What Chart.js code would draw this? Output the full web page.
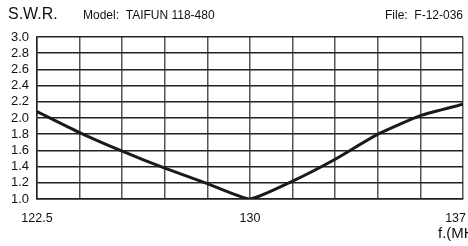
<!DOCTYPE html>
<html lang="en">
<head>
    <meta charset="UTF-8">
    <title>S.W.R. - TAIFUN 118-480</title>
    <style>
        body {
            margin: 0;
            padding: 0;
            background: #fff;
        }
        .wrap {
            position: relative;
            width: 468px;
            height: 246px;
            overflow: hidden;
        }
    </style>
</head>
<body>
    <div class="wrap">
        <canvas id="swr-chart" width="468" height="246"></canvas>
    </div>
    <script src="https://cdn.jsdelivr.net/npm/chart.js"></script>
    <script>
        // frequency (MHz) and SWR
        const freqs = [122.5, 124, 125.5, 127, 128.5, 130, 131.5, 133, 134.5, 136, 137.5];
        const swr = [2.08, 1.82, 1.59, 1.38, 1.19, 1.0, 1.22, 1.49, 1.80, 2.03, 2.17];

        const xTickValues = [122.5, 130, 137.5];
        const xTickLabels = ['122.5', '130', '137'];

        const axisFont = 'Liberation Sans, Arial, sans-serif';

        // header texts + x labels drawn on the canvas
        const textPlugin = {
            id: 'texts',
            afterDraw(chart) {
                const ctx = chart.ctx;
                const x = chart.scales.x;
                ctx.save();
                ctx.fillStyle = '#111';
                ctx.textBaseline = 'middle';

                ctx.font = '16px ' + axisFont;
                ctx.textAlign = 'left';
                ctx.fillText('S.W.R.', 8, 15);

                ctx.font = '12px ' + axisFont;
                ctx.fillText('Model:  TAIFUN 118-480', 83, 16);
                ctx.textAlign = 'right';
                ctx.fillText('File:  F-12-036', 463, 16);

                ctx.font = '12.5px ' + axisFont;
                xTickValues.forEach((v, i) => {
                    const px = x.getPixelForValue(v);
                    const last = i === xTickValues.length - 1;
                    ctx.textAlign = last ? 'right' : 'center';
                    ctx.fillText(xTickLabels[i], px + (last ? 3 : 0), 219);
                });

                ctx.font = '15px ' + axisFont;
                ctx.textAlign = 'left';
                ctx.fillText('f.(MHz)', 438, 234);
                ctx.restore();
            }
        };

        new Chart(document.getElementById('swr-chart'), {
            type: 'line',
            data: {
                datasets: [{
                    data: freqs.map((f, i) => ({ x: f, y: swr[i] })),
                    borderColor: '#1a1a1a',
                    borderWidth: 3,
                    pointRadius: 0,
                    tension: 0.15,
                    fill: false
                }]
            },
            options: {
                responsive: false,
                animation: false,
                devicePixelRatio: 1,
                layout: { padding: { left: 0, right: 5, top: 37, bottom: 47 } },
                plugins: {
                    legend: { display: false },
                    tooltip: { enabled: false }
                },
                scales: {
                    x: {
                        type: 'linear',
                        min: 122.5,
                        max: 137.5,
                        ticks: { display: false, stepSize: 1.5, autoSkip: false },
                        grid: { color: '#555', lineWidth: 1.5, drawTicks: false },
                        border: { color: '#222', width: 1.5 }
                    },
                    y: {
                        min: 1.0,
                        max: 3.0,
                        afterFit(scale) { scale.width = 37; },
                        ticks: {
                            stepSize: 0.2,
                            autoSkip: false,
                            padding: 8,
                            color: '#111',
                            font: { family: axisFont, size: 13 },
                            callback: v => v.toFixed(1)
                        },
                        grid: { color: '#222', lineWidth: 1.5, drawTicks: false },
                        border: { color: '#222', width: 1.5 }
                    }
                }
            },
            plugins: [textPlugin]
        });
    </script>
</body>
</html>
